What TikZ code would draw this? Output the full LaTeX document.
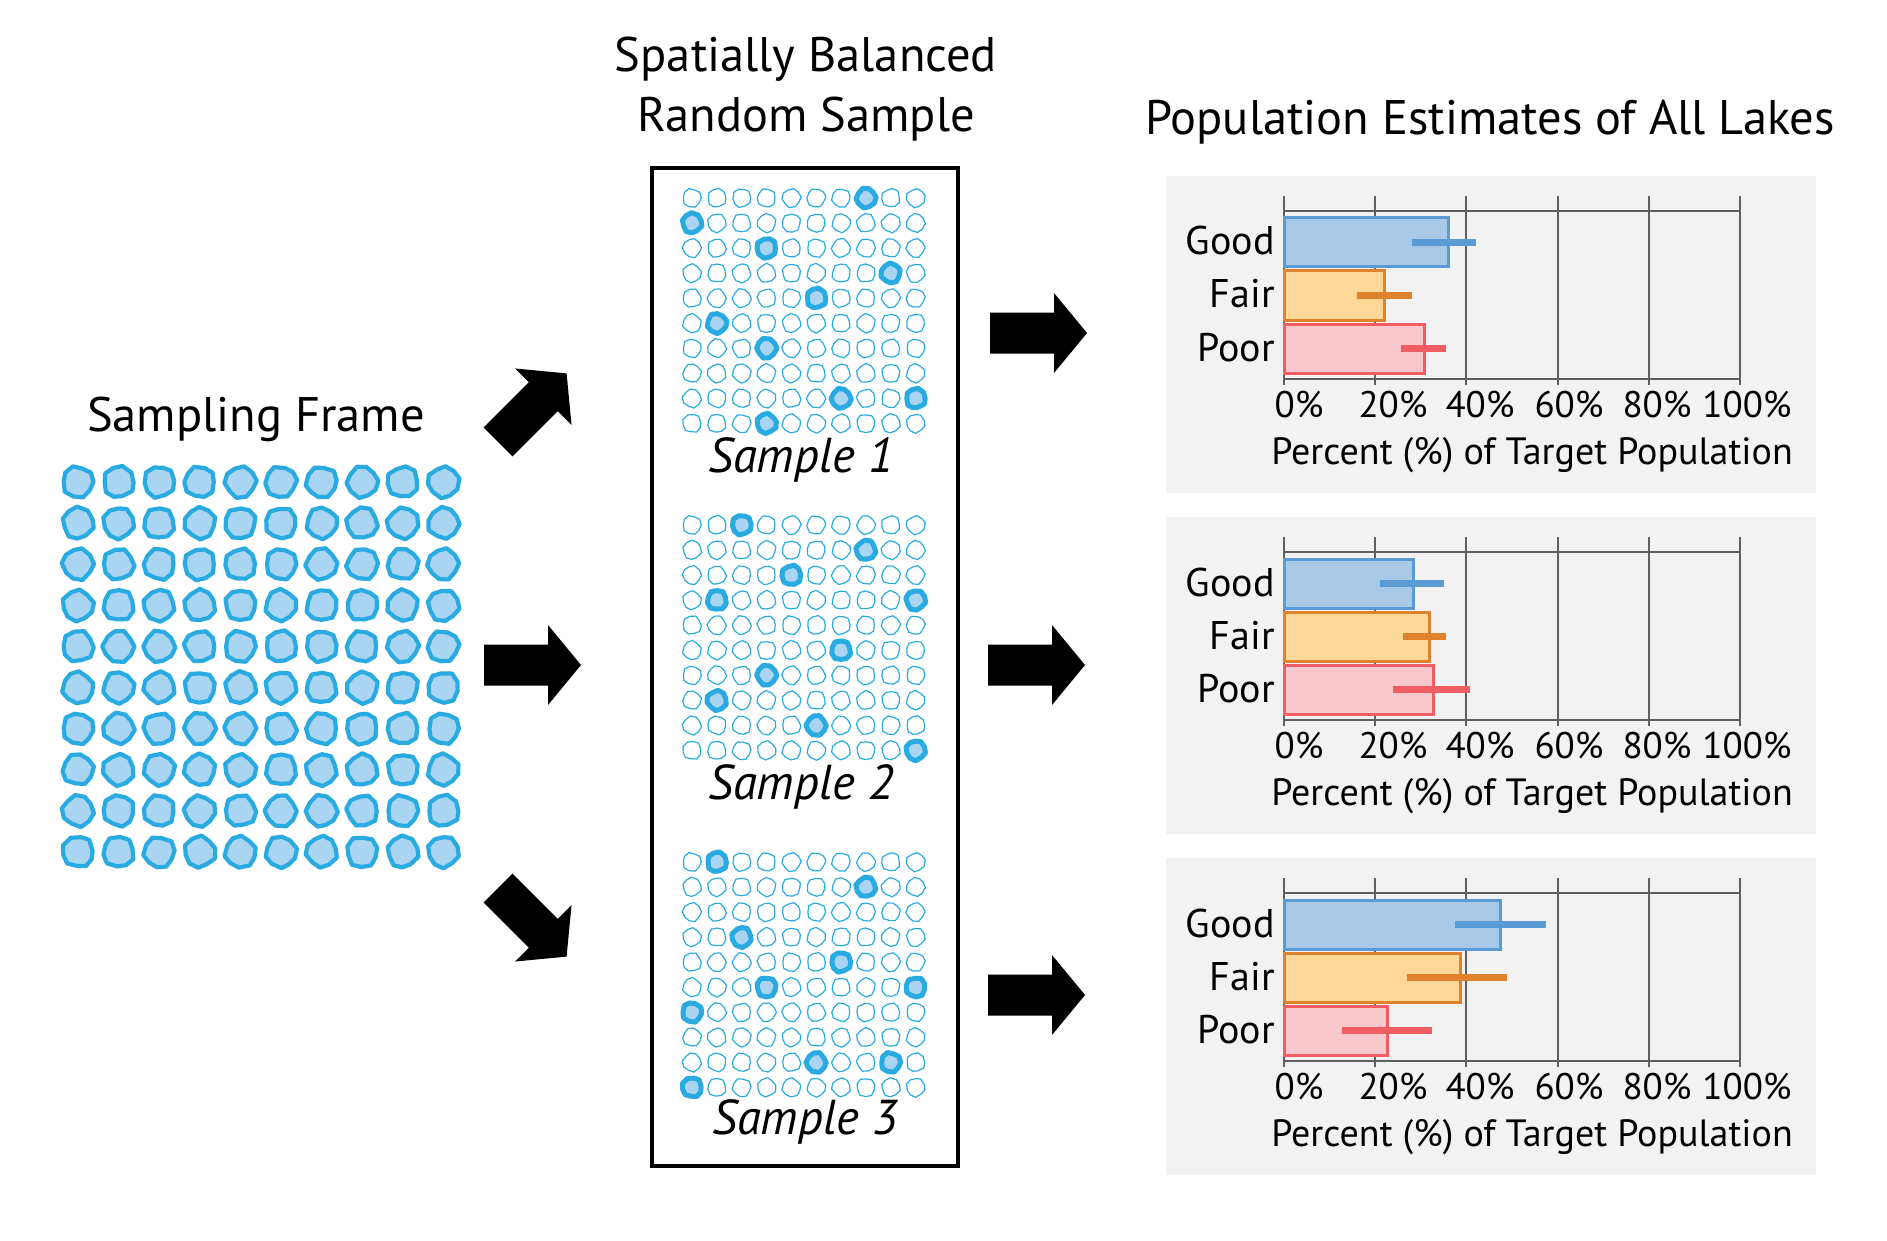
\documentclass[tikz,border=0pt]{standalone}
\usepackage{fontspec}
\setmainfont{PT Sans}
\definecolor{lakeblue}{HTML}{29ABE2}
\definecolor{lakefill}{HTML}{AAD5F2}
\definecolor{panelbg}{HTML}{F2F2F2}
\definecolor{gridc}{HTML}{5F5F5F}
\definecolor{goodfill}{HTML}{A8C8E8}
\definecolor{goodline}{HTML}{5B9BD5}
\definecolor{fairfill}{HTML}{FED897}
\definecolor{fairline}{HTML}{E0822B}
\definecolor{poorfill}{HTML}{FAC8CC}
\definecolor{poorline}{HTML}{F05D62}
\def\lakeshapeA{(0:1.00) -- (36:0.93) -- (72:1.04) -- (108:0.98) -- (144:1.06) -- (180:0.92) -- (216:1.02) -- (252:1.06) -- (288:0.91) -- (324:1.03) -- cycle}
\def\lakeshapeB{(0:1.05) -- (40:0.95) -- (75:1.02) -- (110:0.90) -- (150:1.04) -- (185:1.00) -- (220:0.93) -- (255:1.05) -- (290:1.00) -- (325:0.94) -- cycle}
\def\lakeshapeC{(0:0.95) -- (30:1.05) -- (70:0.97) -- (105:1.03) -- (140:0.92) -- (180:1.06) -- (215:0.98) -- (250:0.94) -- (290:1.05) -- (325:0.99) -- cycle}
\def\lakeshapeD{(0:1.02) -- (38:0.97) -- (70:1.06) -- (112:0.94) -- (145:1.00) -- (178:1.05) -- (215:0.90) -- (250:1.02) -- (285:0.97) -- (320:1.06) -- cycle}
\newcommand\pickshape[1]{%
  \ifcase#1\relax\let\curshape\lakeshapeA\or\let\curshape\lakeshapeB\or\let\curshape\lakeshapeC\else\let\curshape\lakeshapeD\fi}
\def\blockarrowpath{(0,-20.5) -- (64,-20.5) -- (64,-40) -- (97,0) -- (64,40) -- (64,20.5) -- (0,20.5) -- cycle}
\tikzset{
  bigLake/.style={draw=lakeblue, fill=lakefill, line width=4.2pt, line join=round},
  smallLake/.style={draw=lakeblue, line width=1.2pt, line join=round},
  pickLake/.style={draw=lakeblue, fill=lakefill, line width=5pt, line join=round},
  titletext/.style={font=\fontsize{48.5}{56}\selectfont, inner sep=0pt},
  sampletext/.style={font=\fontsize{49}{56}\selectfont\itshape, inner sep=0pt},
  charttext/.style={font=\fontsize{40}{46}\selectfont, inner sep=0pt},
  ticktext/.style={font=\fontsize{37}{42}\selectfont, inner sep=0pt},
  axistext/.style={font=\fontsize{38}{44}\selectfont, inner sep=0pt},
  panel/.style={fill=panelbg},
  gridline/.style={draw=gridc, line width=2pt},
  blockarrow/.style={fill=black},
  samplebox/.style={draw=black, line width=4.5pt},
  barGood/.style={fill=goodfill, draw=goodline, line width=3pt},
  barFair/.style={fill=fairfill, draw=fairline, line width=3pt},
  barPoor/.style={fill=poorfill, draw=poorline, line width=3pt},
  errbar/.style={line width=6.5pt},
}
% one lake: x, y, radius, style, i, j
\newcommand\onelake[6]{%
  \pgfmathtruncatemacro\lv{mod(#5*3+#6*7,4)}%
  \pgfmathsetmacro\lrot{mod(#5*37+#6*53,360)}%
  \pickshape{\lv}%
  \begin{scope}[shift={(#1,#2)}, rotate=\lrot, scale=#3]
    \draw[#4] \curshape;
  \end{scope}}
\newcommand\samplegrid[2]{%
  \foreach \i in {0,...,9}{\foreach \j in {0,...,9}{%
    \onelake{692+24.85*\i}{#1+25.05*\j}{9.3}{smallLake}{\i}{\j}}}
  \foreach \i/\j in {#2}{%
    \onelake{692+24.85*\i}{#1+25.05*\j}{9.8}{pickLake}{\i}{\j}}}
% chart: #1 top line y, #2 suffix, #3 bars
\newcommand\drawchart[3]{%
  \fill[panel] (1166,#1-35) rectangle (1816,#1+282);
  \foreach \k in {0,...,5}{\draw[gridline] ({1284+91.2*\k},#1-15) -- ({1284+91.2*\k},#1+174);}
  \draw[gridline] (1284,#1) -- (1740,#1);
  \draw[gridline] (1284,#1+168) -- (1740,#1+168);
  \foreach \nm/\st/\col/\yo/\v/\lo/\hi in {#3}{%
    \draw[\st] (1284,#1+\yo) rectangle ({1284+4.56*\v},#1+\yo+49);
    \draw[errbar, draw=\col] ({1284+4.56*\lo},#1+\yo+24.5) -- ({1284+4.56*\hi},#1+\yo+24.5);
    \node[charttext, anchor=base east] (lab\nm#2) at (1275,#1+\yo+37) {\nm};
  }
  \foreach \t/\xx in {0/1299,20/1393,40/1480,60/1569,80/1657,100/1747}{%
    \node[ticktext, anchor=base] (tick\t#2) at (\xx,#1+206) {\t\%};}
  \node[axistext, anchor=base] (axis#2) at (1532,#1+253) {Percent (\%) of Target Population};
}
\begin{document}
\begin{tikzpicture}[x=1pt,y=-1pt]
\useasboundingbox (0,0) rectangle (1887,1241);
\fill[white] (0,0) rectangle (1887,1241);

% sampling frame
\node[titletext, anchor=base] (tframe) at (256,431) {Sampling Frame};
\foreach \i in {0,...,9}{\foreach \j in {0,...,9}{%
  \onelake{78+40.6*\i}{482+41.1*\j}{15.5}{bigLake}{\i}{\j}}}

% arrows from frame
\begin{scope}[shift={(498,442)}, rotate=45] \fill[blockarrow] \blockarrowpath; \end{scope}
\begin{scope}[shift={(484,665)}] \fill[blockarrow] \blockarrowpath; \end{scope}
\begin{scope}[shift={(498,888)}, rotate=-45] \fill[blockarrow] \blockarrowpath; \end{scope}

% sample column
\node[titletext, anchor=base] (tsb1) at (806,72) {Spatially Balanced};
\node[titletext, anchor=base] (tsb2) at (806,132) {Random Sample};
\draw[samplebox] (652,168) rectangle (958,1166);
\samplegrid{198}{7/0,0/1,3/2,8/3,5/4,1/5,3/6,6/8,9/8,3/9}
\samplegrid{525}{2/0,7/1,4/2,1/3,9/3,6/5,3/6,1/7,5/8,9/9}
\samplegrid{862}{1/0,7/1,2/3,6/4,3/5,9/5,0/6,5/8,8/8,0/9}
\node[sampletext, anchor=base] (s1) at (801,472) {Sample 1};
\node[sampletext, anchor=base] (s2) at (801,799) {Sample 2};
\node[sampletext, anchor=base] (s3) at (805,1134) {Sample 3};

% arrows to charts
\begin{scope}[shift={(990,333)}] \fill[blockarrow] \blockarrowpath; \end{scope}
\begin{scope}[shift={(988,665)}] \fill[blockarrow] \blockarrowpath; \end{scope}
\begin{scope}[shift={(988,995)}] \fill[blockarrow] \blockarrowpath; \end{scope}

% charts
\node[titletext, anchor=base] (tpop) at (1490,135) {Population Estimates of All Lakes};
\drawchart{211}{a}{Good/barGood/goodline/7/36/28/42, Fair/barFair/fairline/60/22/16/28, Poor/barPoor/poorline/113/30.7/25.7/35.5}
\drawchart{552}{b}{Good/barGood/goodline/7/28.5/21/35, Fair/barFair/fairline/60/32/26/35.6, Poor/barPoor/poorline/113/32.7/24/40.8}
\drawchart{893}{c}{Good/barGood/goodline/7/47.5/37.5/57.5, Fair/barFair/fairline/60/38.6/27/49, Poor/barPoor/poorline/113/22.8/12.7/32.5}
\end{tikzpicture}
\end{document}
